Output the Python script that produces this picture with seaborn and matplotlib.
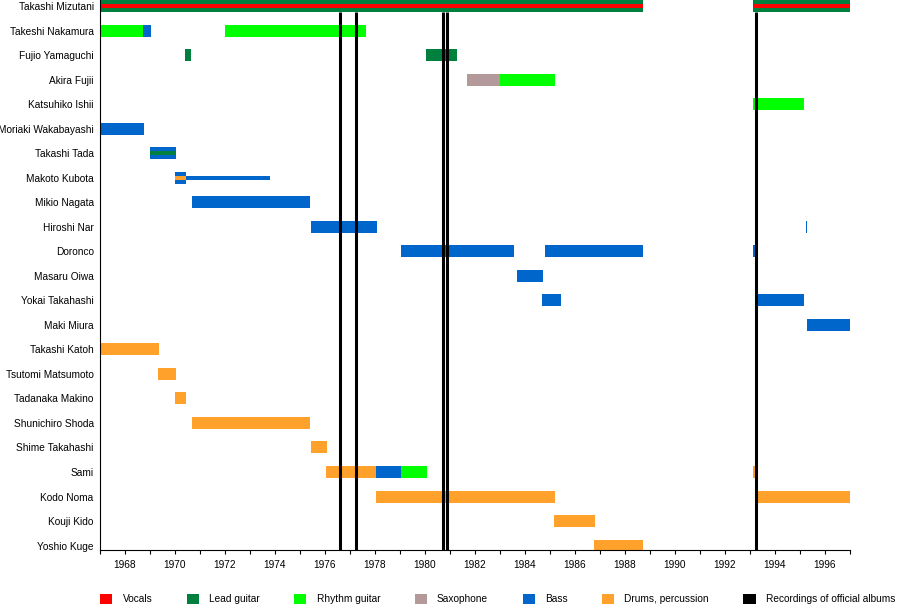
import matplotlib
matplotlib.use("Agg")
import matplotlib.pyplot as plt
from matplotlib.patches import Patch
from matplotlib.ticker import MultipleLocator
import seaborn as sns

# band members, top to bottom
members = [
    "Takashi Mizutani", "Takeshi Nakamura", "Fujio Yamaguchi", "Akira Fujii",
    "Katsuhiko Ishii", "Moriaki Wakabayashi", "Takashi Tada", "Makoto Kubota",
    "Mikio Nagata", "Hiroshi Nar", "Doronco", "Masaru Oiwa", "Yokai Takahashi",
    "Maki Miura", "Takashi Katoh", "Tsutomi Matsumoto", "Tadanaka Makino",
    "Shunichiro Shoda", "Shime Takahashi", "Sami", "Kodo Noma", "Kouji Kido",
    "Yoshio Kuge",
]
roles = ["Vocals", "Lead guitar", "Rhythm guitar", "Saxophone", "Bass",
         "Drums, percussion"]
role_colors = ["#ff0000", "#00803f", "#00ff00", "#b39999", "#0066cc", "#ffa12b"]

# main role spans: (member, role, start, end)
spans = [
    ("Takashi Mizutani", "Lead guitar", 1967.0, 1988.72),
    ("Takashi Mizutani", "Lead guitar", 1993.12, 1997.0),
    ("Takeshi Nakamura", "Rhythm guitar", 1967.0, 1968.72),
    ("Takeshi Nakamura", "Bass", 1968.72, 1969.04),
    ("Takeshi Nakamura", "Rhythm guitar", 1972.0, 1977.64),
    ("Fujio Yamaguchi", "Lead guitar", 1970.4, 1970.64),
    ("Fujio Yamaguchi", "Lead guitar", 1980.04, 1981.3),
    ("Akira Fujii", "Saxophone", 1981.68, 1983.0),
    ("Akira Fujii", "Rhythm guitar", 1983.0, 1985.2),
    ("Katsuhiko Ishii", "Rhythm guitar", 1993.12, 1995.16),
    ("Moriaki Wakabayashi", "Bass", 1967.0, 1968.76),
    ("Takashi Tada", "Bass", 1969.0, 1970.04),
    ("Makoto Kubota", "Bass", 1970.0, 1970.44),
    ("Mikio Nagata", "Bass", 1970.68, 1975.4),
    ("Hiroshi Nar", "Bass", 1975.44, 1978.08),
    ("Hiroshi Nar", "Bass", 1995.24, 1995.3),
    ("Doronco", "Bass", 1979.04, 1983.56),
    ("Doronco", "Bass", 1984.8, 1988.72),
    ("Doronco", "Bass", 1993.12, 1993.28),
    ("Masaru Oiwa", "Bass", 1983.68, 1984.72),
    ("Yokai Takahashi", "Bass", 1984.68, 1985.44),
    ("Yokai Takahashi", "Bass", 1993.24, 1995.16),
    ("Maki Miura", "Bass", 1995.28, 1997.0),
    ("Takashi Katoh", "Drums, percussion", 1967.0, 1969.36),
    ("Tsutomi Matsumoto", "Drums, percussion", 1969.32, 1970.04),
    ("Tadanaka Makino", "Drums, percussion", 1970.0, 1970.44),
    ("Shunichiro Shoda", "Drums, percussion", 1970.68, 1975.4),
    ("Shime Takahashi", "Drums, percussion", 1975.44, 1976.08),
    ("Sami", "Drums, percussion", 1976.04, 1978.04),
    ("Sami", "Bass", 1978.04, 1979.04),
    ("Sami", "Rhythm guitar", 1979.04, 1980.08),
    ("Sami", "Drums, percussion", 1993.12, 1993.28),
    ("Kodo Noma", "Drums, percussion", 1978.04, 1985.2),
    ("Kodo Noma", "Drums, percussion", 1993.24, 1997.0),
    ("Kouji Kido", "Drums, percussion", 1985.16, 1986.8),
    ("Yoshio Kuge", "Drums, percussion", 1986.76, 1988.72),
]

# secondary roles, drawn as a thin stripe
extra_spans = [
    ("Takashi Mizutani", "Vocals", 1967.0, 1988.72),
    ("Takashi Mizutani", "Vocals", 1993.12, 1997.0),
    ("Takashi Tada", "Lead guitar", 1969.0, 1970.04),
    ("Makoto Kubota", "Drums, percussion", 1970.0, 1970.44),
    ("Makoto Kubota", "Bass", 1970.44, 1973.8),
]

# recordings of official albums
albums = [1976.6, 1977.25, 1980.72, 1980.88, 1993.22]

sns.set_theme(style="white", rc={
    "axes.edgecolor": "black", "axes.linewidth": 0.8,
    "xtick.color": "black", "ytick.color": "black", "text.color": "black",
    "axes.labelcolor": "black",
})
plt.rcParams["font.family"] = ["Liberation Sans", "DejaVu Sans"]

color_of = dict(zip(roles, role_colors))
row_of = {m: i for i, m in enumerate(members)}
bar_h = 0.49

fig = plt.figure(figsize=(9, 6.1), dpi=100)
ax = fig.add_axes([100 / 900, 60 / 610, 750 / 900, 550 / 610])

for m, r, s, e in spans:
    ax.barh(row_of[m], e - s, left=s, height=bar_h, color=color_of[r],
            linewidth=0, zorder=2)
for m, r, s, e in extra_spans:
    ax.barh(row_of[m], e - s, left=s, height=bar_h / 3, color=color_of[r],
            linewidth=0, zorder=2.5)

y_top, y_bot = -0.245, len(members) - 1 + 0.18
ax.vlines(albums, bar_h / 2, y_bot, color="black", lw=2.2, zorder=3)

ax.set_xlim(1967, 1997)
ax.set_ylim(y_bot, y_top)
ax.set_yticks(range(len(members)))
ax.set_yticklabels(members)
ax.xaxis.set_major_locator(MultipleLocator(2, offset=0))
ax.set_xticks(range(1968, 1997, 2))
ax.xaxis.set_minor_locator(MultipleLocator(1))
ax.tick_params(axis="x", which="both", direction="out", length=3, width=0.8,
               bottom=True, labelsize=7.3, pad=4)
ax.tick_params(axis="y", length=0, labelsize=7.3, pad=4.5)
sns.despine(ax=ax)

handles = [Patch(facecolor=c, edgecolor="none", label=r)
           for r, c in zip(roles, role_colors)]
handles.append(Patch(facecolor="black", edgecolor="none",
                     label="Recordings of official albums"))
fig.legend(handles=handles, loc="center", bbox_to_anchor=(0.553, 0.018),
           ncol=7, frameon=False, fontsize=7.3, handlelength=1.2,
           handleheight=1.2, handletextpad=1.0, columnspacing=3.4,
           borderaxespad=0, borderpad=0)

fig.savefig("out.png", dpi=100)
